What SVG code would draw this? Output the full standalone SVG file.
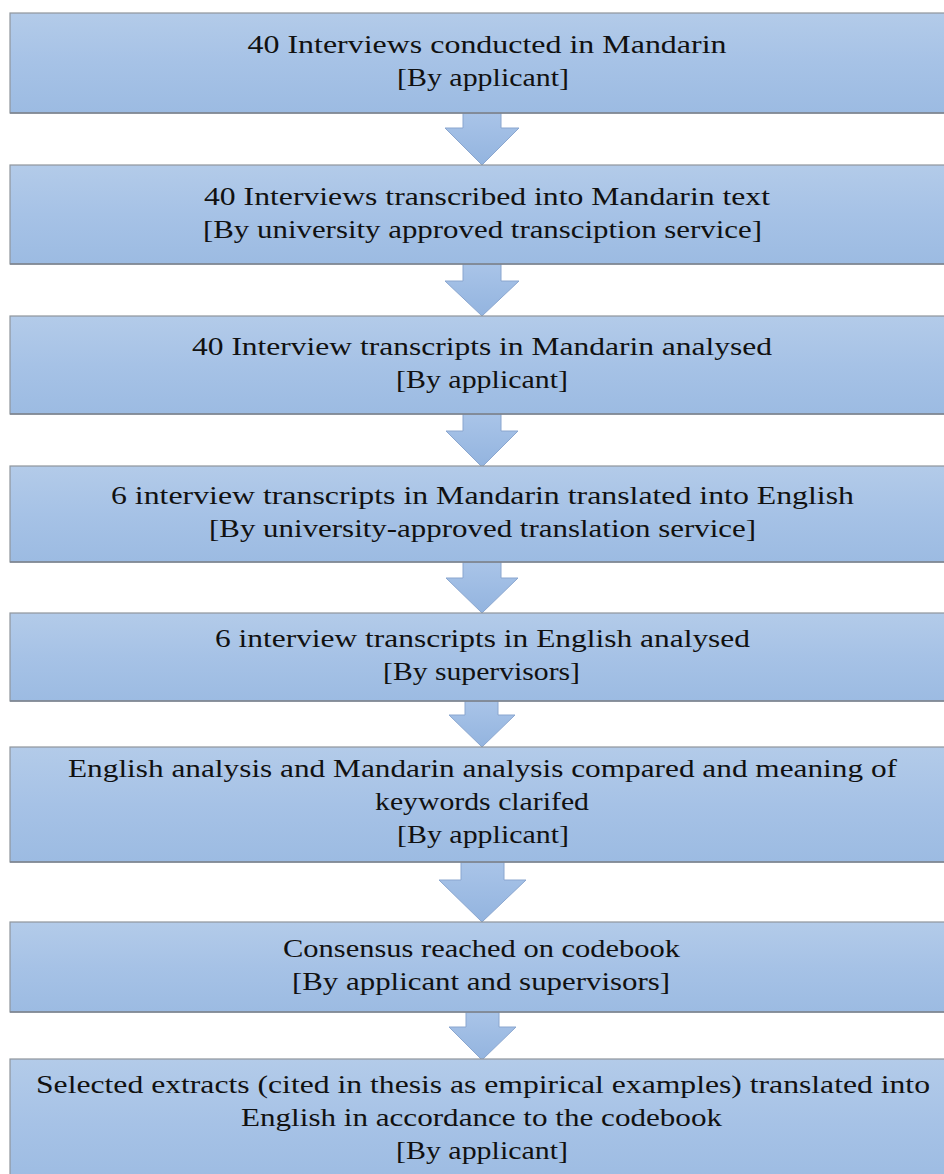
<svg xmlns="http://www.w3.org/2000/svg" width="944" height="1174" viewBox="0 0 944 1174">
<defs>
<linearGradient id="boxg" x1="0" y1="0" x2="0" y2="1">
<stop offset="0" stop-color="#b3cbe9"/>
<stop offset="0.5" stop-color="#a6c2e6"/>
<stop offset="1" stop-color="#9cbbe2"/>
</linearGradient>
<linearGradient id="arrg" x1="0" y1="0" x2="0" y2="1">
<stop offset="0" stop-color="#a9c4e8"/>
<stop offset="1" stop-color="#93b4df"/>
</linearGradient>
</defs>
<style>
.box{fill:url(#boxg);stroke:#8f959c;stroke-width:1.2}
.shadow{fill:none;stroke:#7c8590;stroke-width:1.5}
.arr{fill:url(#arrg);stroke:#8aa6cf;stroke-width:1}
.t{font-family:'Liberation Serif','Times New Roman',Times,'Noto Serif','DejaVu Serif',serif;font-size:26px;fill:#111;text-anchor:middle}
</style>
<rect width="944" height="1174" fill="#ffffff"/>
<g id="connectors">
<path class="arr" d="M463,113 H501 V128 H519 L482,165 L445,128 H463 Z"/>
<path class="arr" d="M463,264 H501 V281 H519 L482,316 L445,281 H463 Z"/>
<path class="arr" d="M463,414 H501 V431 H518 L482,467 L446,431 H463 Z"/>
<path class="arr" d="M463,562 H501 V578 H518 L482,613 L446,578 H463 Z"/>
<path class="arr" d="M465,701 H498 V715 H515 L482,747 L449,715 H465 Z"/>
<path class="arr" d="M461,862 H504 V880 H526 L482,922 L439,880 H461 Z"/>
<path class="arr" d="M466,1012 H499 V1027 H516 L482,1060 L449,1027 H466 Z"/>
</g>
<g id="n1">
<rect class="box" x="10" y="13" width="950" height="100"/>
<line class="shadow" x1="10" y1="113" x2="944" y2="113"/>
<text class="t" font-family="Liberation Serif, serif" x="487" y="53" textLength="479" lengthAdjust="spacingAndGlyphs">40 Interviews conducted in Mandarin</text>
<text class="t" font-family="Liberation Serif, serif" x="483" y="86" textLength="172" lengthAdjust="spacingAndGlyphs">[By applicant]</text>
</g>
<g id="n2">
<rect class="box" x="10" y="165" width="950" height="99"/>
<line class="shadow" x1="10" y1="264" x2="944" y2="264"/>
<text class="t" x="487" y="205" textLength="566" lengthAdjust="spacingAndGlyphs">40 Interviews transcribed into Mandarin text</text>
<text class="t" x="482.5" y="238" textLength="559" lengthAdjust="spacingAndGlyphs">[By university approved transciption service]</text>
</g>
<g id="n3">
<rect class="box" x="10" y="316" width="950" height="98"/>
<line class="shadow" x1="10" y1="414" x2="944" y2="414"/>
<text class="t" x="482" y="355" textLength="580" lengthAdjust="spacingAndGlyphs">40 Interview transcripts in Mandarin analysed</text>
<text class="t" x="482" y="388" textLength="172" lengthAdjust="spacingAndGlyphs">[By applicant]</text>
</g>
<g id="n4">
<rect class="box" x="10" y="466" width="950" height="96"/>
<line class="shadow" x1="10" y1="562" x2="944" y2="562"/>
<text class="t" x="482.5" y="504" textLength="743" lengthAdjust="spacingAndGlyphs">6 interview transcripts in Mandarin translated into English</text>
<text class="t" x="482.5" y="537" textLength="547" lengthAdjust="spacingAndGlyphs">[By university-approved translation service]</text>
</g>
<g id="n5">
<rect class="box" x="10" y="613" width="950" height="88"/>
<line class="shadow" x1="10" y1="701" x2="944" y2="701"/>
<text class="t" x="482.5" y="647" textLength="535" lengthAdjust="spacingAndGlyphs">6 interview transcripts in English analysed</text>
<text class="t" x="481.5" y="680" textLength="197" lengthAdjust="spacingAndGlyphs">[By supervisors]</text>
</g>
<g id="n6">
<rect class="box" x="10" y="747" width="950" height="115"/>
<line class="shadow" x1="10" y1="862" x2="944" y2="862"/>
<text class="t" x="482.5" y="777" textLength="829" lengthAdjust="spacingAndGlyphs">English analysis and Mandarin analysis compared and meaning of</text>
<text class="t" x="482" y="810" textLength="214" lengthAdjust="spacingAndGlyphs">keywords clarifed</text>
<text class="t" x="483" y="843" textLength="172" lengthAdjust="spacingAndGlyphs">[By applicant]</text>
</g>
<g id="n7">
<rect class="box" x="10" y="922" width="950" height="90"/>
<line class="shadow" x1="10" y1="1012" x2="944" y2="1012"/>
<text class="t" x="481.5" y="957" textLength="397" lengthAdjust="spacingAndGlyphs">Consensus reached on codebook</text>
<text class="t" x="481" y="990" textLength="378" lengthAdjust="spacingAndGlyphs">[By applicant and supervisors]</text>
</g>
<g id="n8">
<rect class="box" x="10" y="1059" width="950" height="130"/>
<text class="t" x="483" y="1093" textLength="894" lengthAdjust="spacingAndGlyphs">Selected extracts (cited in thesis as empirical examples) translated into</text>
<text class="t" x="481.5" y="1126" textLength="481" lengthAdjust="spacingAndGlyphs">English in accordance to the codebook</text>
<text class="t" x="482" y="1159" textLength="172" lengthAdjust="spacingAndGlyphs">[By applicant]</text>
</g>
</svg>
